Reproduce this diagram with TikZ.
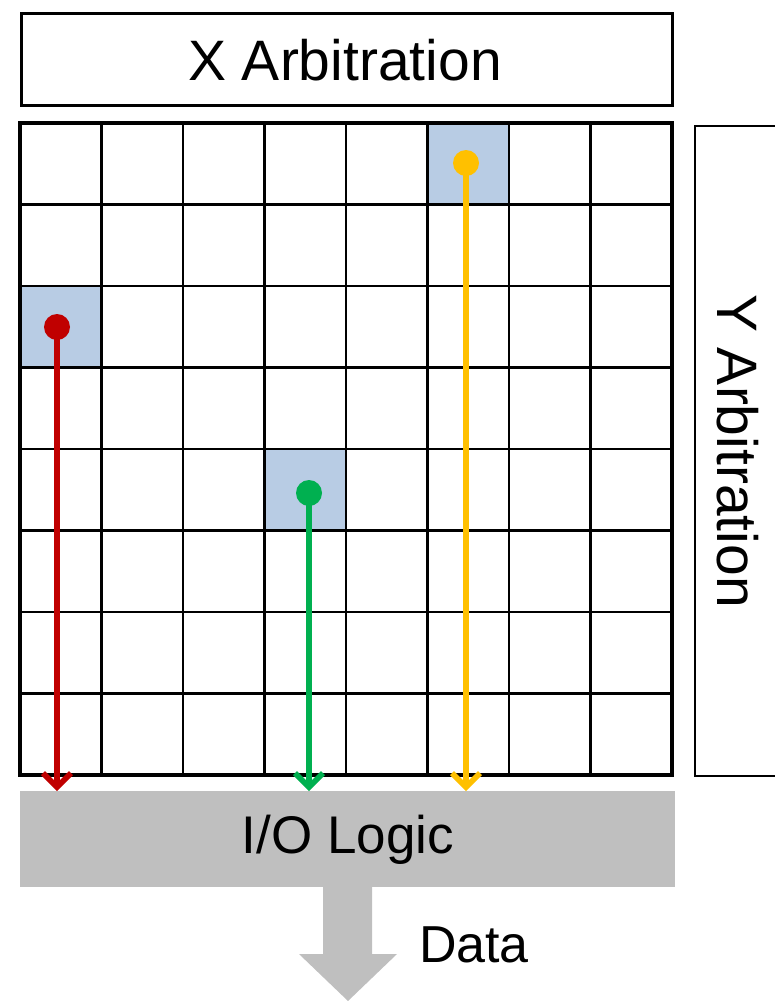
\documentclass[tikz,border=0pt]{standalone}
\usepackage{fontspec}
\setmainfont{Liberation Sans}
\usetikzlibrary{arrows.meta}
\definecolor{cellblue}{HTML}{B8CCE4}
\definecolor{ared}{HTML}{C00000}
\definecolor{agreen}{HTML}{00B050}
\definecolor{ayellow}{HTML}{FFC000}
\definecolor{iogray}{HTML}{BFBFBF}
\tikzset{
  lbl/.style={font=\fontsize{57}{60}\selectfont, inner sep=0pt},
  dot/.style={circle, fill=#1, minimum size=26pt, inner sep=0pt},
  sigline/.style={line width=5.5pt},
  sigtip/.style={-{Straight Barb[length=14pt,width=28pt]}},
  hl/.style={fill=cellblue}
}
\begin{document}
\begin{tikzpicture}[x=1pt,y=-1pt]
\useasboundingbox (0,0) rectangle (774,1001);
% X arbitration
\node[draw, line width=2.5pt, minimum width=651pt, minimum height=92pt, anchor=north west, inner sep=0pt] (xarb) at (20,12) {};
\node[lbl] (xlbl) at (345,60) {X Arbitration};
% Y arbitration (cut at right edge)
\draw[line width=2.5pt] (776,126) -- (695,126) -- (695,776) -- (776,776);
\node[lbl, rotate=-90] (ylbl) at (738,451) {Y Arbitration};
% highlighted cells
\fill[hl] (20+5*81.5,123) rectangle ++(81.5,81.5);
\fill[hl] (20,123+2*81.5) rectangle ++(81.5,81.5);
\fill[hl] (20+3*81.5,123+4*81.5) rectangle ++(81.5,81.5);
% grid
\foreach \i in {1,...,7} {
  \draw[line width=2.5pt] (20+\i*81.5,123) -- (20+\i*81.5,775);
  \draw[line width=2.5pt] (20,123+\i*81.5) -- (672,123+\i*81.5);
}
\draw[line width=3.5pt] (20,123) rectangle (672,775);
% I/O logic
\node[fill=iogray, minimum width=655pt, minimum height=96pt, anchor=north west, inner sep=0pt] (io) at (20,791) {};
\node[font=\fontsize{53}{56}\selectfont, inner sep=0pt] (iolbl) at (348,840) {I/O Logic};
% data arrow
\fill[iogray] (323,886) -- (372,886) -- (372,954) -- (397,954) -- (348,1001) -- (299,954) -- (323,954) -- cycle;
\node[font=\fontsize{52}{55}\selectfont, inner sep=0pt] (data) at (474,945) {Data};
% dots and signal arrows
\node[dot=ayellow] (y) at (466,163) {};
\node[dot=ared] (r) at (57,327) {};
\node[dot=agreen] (g) at (309,493) {};
\draw[ayellow, sigline, sigtip] (y.center) -- (y |- io.north);
\draw[ared, sigline, sigtip] (r.center) -- (r |- io.north);
\draw[agreen, sigline, sigtip] (g.center) -- (g |- io.north);
\end{tikzpicture}
\end{document}
